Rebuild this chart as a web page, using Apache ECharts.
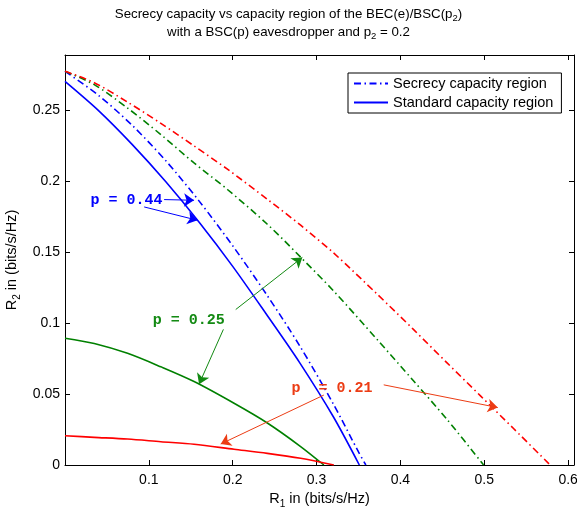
<!DOCTYPE html>
<html>
<head>
<meta charset="utf-8">
<script src="https://cdn.jsdelivr.net/npm/echarts@6/dist/echarts.min.js"></script>
<style>html,body{margin:0;padding:0;background:#fff;}#c{width:577px;height:508px;}</style>
</head>
<body>
<div id="c"></div>
<script>
// ---- data (R1, R2) ----
const blueSecrecy = [[0,0.2775],[0.04,0.2605],[0.08,0.2395],[0.12,0.2146],[0.16,0.1860],[0.20,0.1545],[0.24,0.1205],[0.28,0.0839],[0.32,0.0430],[0.35,0.0092],[0.3588,0]];
const blueStandard = [[0,0.2704],[0.04,0.2498],[0.08,0.2260],[0.12,0.1998],[0.16,0.1711],[0.20,0.1400],[0.24,0.1064],[0.28,0.0720],[0.32,0.0340],[0.351,0]];
const greenSecrecy = [[0,0.2775],[0.0349,0.2681],[0.0746,0.2516],[0.1143,0.2329],[0.1539,0.2129],[0.1937,0.1942],[0.2413,0.1697],[0.2810,0.1465],[0.3206,0.1225],[0.3723,0.0884],[0.4158,0.0592],[0.4556,0.0321],[0.4992,0]];
const greenStandard = [[0,0.0894],[0.0349,0.0857],[0.0746,0.0787],[0.1143,0.0692],[0.1539,0.0588],[0.2016,0.0435],[0.2413,0.0296],[0.2810,0.0130],[0.3087,0]];
const redSecrecy = [[0,0.2775],[0.0349,0.2695],[0.0746,0.2558],[0.1143,0.2408],[0.1539,0.2249],[0.1937,0.2085],[0.2413,0.1873],[0.2810,0.1690],[0.3206,0.1493],[0.3723,0.1204],[0.4158,0.0954],[0.4556,0.0720],[0.4952,0.0489],[0.5349,0.0257],[0.5786,0]];
const redStandard = [[0,0.0206],[0.0349,0.0195],[0.0746,0.0183],[0.1143,0.0164],[0.1539,0.0146],[0.2016,0.0111],[0.2413,0.0082],[0.2810,0.0047],[0.3206,0]];

const xTicks = [0.1,0.2,0.3,0.4,0.5,0.6];
const yTicks = [0,0.05,0.1,0.15,0.2,0.25];

const labels044 = {text:'p = 0.44', at:[0.0297,0.1866]};
const labels025 = {text:'p = 0.25', at:[0.1039,0.1021]};
const labels021 = {text:'p  = 0.21', at:[0.2694,0.0544]};
const arrows044 = [[[0.1182,0.1871],[0.1539,0.1866]],[[0.0944,0.1819],[0.158,0.1725]]];
const arrows025 = [[[0.2036,0.1096],[0.283,0.1463]],[[0.1889,0.0956],[0.1599,0.0570]]];
const arrows021 = [[[0.3801,0.0565],[0.5161,0.0405]],[[0.3087,0.0493],[0.1857,0.0148]]];

const BLUE='#0000ff', GREEN='#008000', RED='#ff0000';
const AGREEN='#138a13', ARED='#ec3c14';
const DASHDOT=[7,3.5,1.5,3.5];
const FONT='Liberation Sans, Arial, sans-serif';
const MONO='Liberation Mono, Courier New, monospace';

function curve(name, data, color, dashed){
  return {type:'line', name:name, data:data, showSymbol:false, symbol:'none', smooth:0.3,
    lineStyle:{color:color, width:1.6, type:dashed?DASHDOT:'solid'}, z:3, silent:true};
}
function annot(lab, arrows, color){
  return {type:'line', data:[lab.at], symbol:'circle', symbolSize:1, showSymbol:true, silent:true, z:6,
    itemStyle:{color:color, opacity:0},
    lineStyle:{opacity:0},
    label:{show:true, position:'right', distance:0, formatter:lab.text, color:color, opacity:1,
      fontFamily:MONO, fontWeight:'bold', fontSize:15},
    markLine:{silent:true, symbol:['none','arrow'], symbolSize:10, animation:false,
      lineStyle:{color:color, width:1, type:'solid', opacity:1}, itemStyle:{color:color, opacity:1}, label:{show:false},
      emphasis:{disabled:true},
      data:arrows.map(a=>[{coord:a[0]},{coord:a[1]}])}};
}
const richT = {
  n:{fontFamily:FONT, fontSize:13.3, color:'#000'},
  s:{fontFamily:FONT, fontSize:9.5, color:'#000', padding:[9,0,0,0]}
};
const richA = {
  n:{fontFamily:FONT, fontSize:14.5, color:'#000'},
  s:{fontFamily:FONT, fontSize:10, color:'#000', padding:[10,0,0,0]}
};
const chart = echarts.init(document.getElementById('c'), null, {renderer:'canvas'});
const axisCommon = {axisLine:{show:true, onZero:false, lineStyle:{color:'#000', width:1}},
  splitLine:{show:false}};
chart.setOption({
  animation:false,
  backgroundColor:'#fff',
  title:{left:'center', top:0, text:'{n|Secrecy capacity vs capacity region of the BEC(e)/BSC(p}{s|2}{n|)}\n{n|with a BSC(p) eavesdropper and p}{s|2}{n| = 0.2}',
    textStyle:{rich:richT, lineHeight:18, fontSize:13.3, fontWeight:'normal'}},
  grid:{left:65, right:3, top:55, bottom:43, containLabel:false, outerBoundsMode:'none'},
  legend:{left:348, top:73, orient:'vertical', data:['Secrecy capacity region','Standard capacity region'],
    itemWidth:34, itemHeight:14, itemGap:4, backgroundColor:'#fff', borderColor:'#000', borderWidth:1,
    padding:[3,8,3,5], itemStyle:{opacity:0}, textStyle:{fontFamily:FONT, fontSize:14.5, color:'#000'}, selectedMode:false},
  xAxis:[
    Object.assign({type:'value', min:0, max:0.607, position:'bottom',
      name:'{n|R}{s|1}{n| in (bits/s/Hz)}', nameLocation:'middle', nameGap:22, nameTextStyle:{rich:richA},
      axisTick:{inside:true, length:5, customValues:xTicks, lineStyle:{color:'#000'}},
      axisLabel:{customValues:xTicks, fontFamily:FONT, fontSize:14, color:'#000', margin:8}}, axisCommon),
    Object.assign({type:'value', min:0, max:0.607, position:'top',
      axisTick:{inside:true, length:5, customValues:xTicks, lineStyle:{color:'#000'}},
      axisLabel:{show:false}}, axisCommon)
  ],
  yAxis:[
    Object.assign({type:'value', min:0, max:0.289, position:'left',
      name:'{n|R}{s|2}{n| in (bits/s/Hz)}', nameLocation:'middle', nameGap:41, nameRotate:90, nameTextStyle:{rich:richA},
      axisTick:{inside:true, length:5, customValues:yTicks, lineStyle:{color:'#000'}},
      axisLabel:{customValues:yTicks, fontFamily:FONT, fontSize:14, color:'#000', margin:5}}, axisCommon),
    Object.assign({type:'value', min:0, max:0.289, position:'right',
      axisTick:{inside:true, length:5, customValues:yTicks, lineStyle:{color:'#000'}},
      axisLabel:{show:false}}, axisCommon)
  ],
  series:[
    curve('bs', blueSecrecy, BLUE, true),
    curve('bt', blueStandard, BLUE, false),
    curve('gs', greenSecrecy, GREEN, true),
    curve('gt', greenStandard, GREEN, false),
    curve('rs', redSecrecy, RED, true),
    curve('rt', redStandard, RED, false),
    annot(labels044, arrows044, BLUE),
    annot(labels025, arrows025, AGREEN),
    annot(labels021, arrows021, ARED),
    {type:'line', name:'Secrecy capacity region', data:[], symbol:'none', color:BLUE, lineStyle:{color:BLUE, width:1.5, type:DASHDOT}},
    {type:'line', name:'Standard capacity region', data:[], symbol:'none', color:BLUE, lineStyle:{color:BLUE, width:1.5, type:'solid'}}
  ]
});
</script>
</body>
</html>
